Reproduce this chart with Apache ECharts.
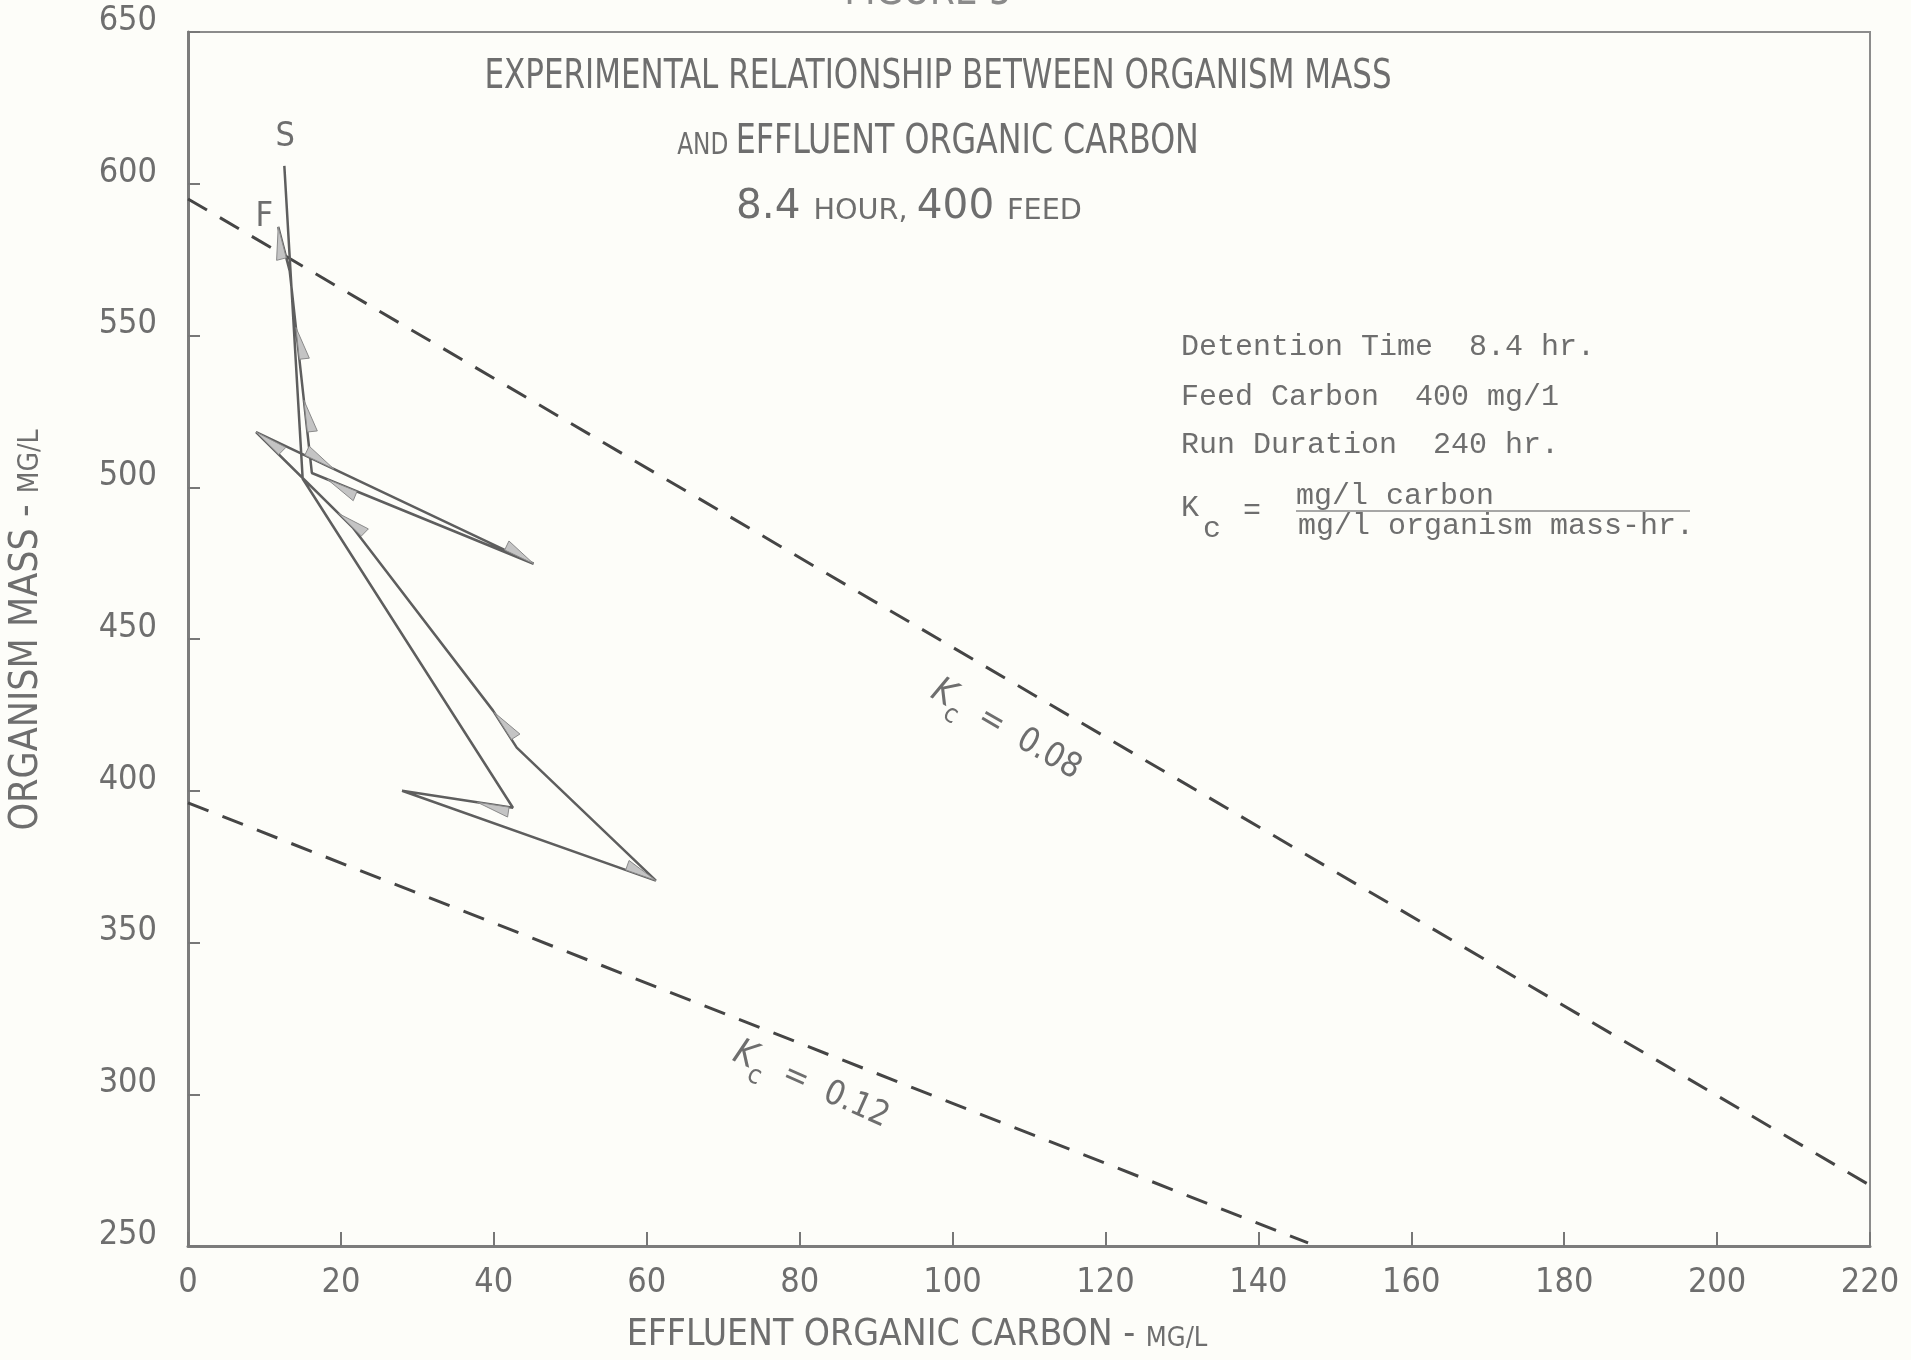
<!DOCTYPE html>
<html>
<head>
<meta charset="utf-8">
<title>Figure 5 - organism mass vs effluent organic carbon</title>
<script src="https://cdn.jsdelivr.net/npm/echarts@6/dist/echarts.min.js"></script>
<style>
  html, body { margin: 0; padding: 0; background: #fdfdf9; }
  #chart { width: 1911px; height: 1360px; }
</style>
</head>
<body>
<div id="chart"></div>
<script>
// axis ticks
const carbonTicks = [0, 20, 40, 60, 80, 100, 120, 140, 160, 180, 200, 220];
const massTicks = [250, 300, 350, 400, 450, 500, 550, 600, 650];

// measured run, from S to F (mg/l carbon, mg/l organism mass)
const pathCarbon = [12.6, 15.0, 42.5, 28.0, 61.2, 43.0, 39.9, 21.6, 8.9, 45.2, 16.2, 13.3, 11.8];
const pathMass = [605.9, 502.8, 394.4, 400.0, 370.4, 414.2, 426.4, 486.6, 518.2, 474.8, 504.7, 571.3, 585.8];

// pencil arrow heads: segment of the run, place along it, side of the barb
const arrowSeg = [11, 10, 10, 8, 8, 9, 7, 7, 5, 3, 2];
const arrowAt = [1.0, 0.72, 0.36, 1.0, 0.28, 0.93, 1.0, 0.15, 0.95, 1.0, 0.32];
const arrowSide = [1, -1, -1, 1, 1, 1, -1, -1, -1, 1, 1];

// Kc guide lines
const kc08Carbon = [0, 220];
const kc08Mass = [595, 270];
const kc12Carbon = [0, 146.5];
const kc12Mass = [396, 251];

const FONT = '"Liberation Sans Narrow", "DejaVu Sans Condensed", "Liberation Sans", sans-serif';
const MONO = '"Liberation Mono", "DejaVu Sans Mono", monospace';
const INK = '#6e6e6e';

const chart = echarts.init(document.getElementById('chart'));

function pairs(xs, ys) {
  return xs.map(function (x, i) { return [x, ys[i]]; });
}

let option = {
  backgroundColor: '#fdfdf9',
  animation: false,
  grid: {
    left: 188, right: 41, top: 32, bottom: 114,
    show: true, borderColor: '#8c8c8c', borderWidth: 2
  },
  xAxis: {
    type: 'value',
    min: carbonTicks[0],
    max: carbonTicks[carbonTicks.length - 1],
    interval: carbonTicks[1] - carbonTicks[0],
    axisLine: { show: true, lineStyle: { color: '#7c7c7c', width: 3 } },
    axisTick: { show: true, inside: true, length: 14, lineStyle: { color: '#777', width: 2 } },
    axisLabel: { color: INK, fontFamily: FONT, fontSize: 34, margin: 20 },
    splitLine: { show: false }
  },
  yAxis: {
    type: 'value',
    min: massTicks[0],
    max: massTicks[massTicks.length - 1],
    interval: massTicks[1] - massTicks[0],
    axisLine: { show: true, lineStyle: { color: '#7c7c7c', width: 3 } },
    axisTick: { show: true, inside: true, length: 12, lineStyle: { color: '#777', width: 2 } },
    // the hand lettering sits a little above each tick
    axisLabel: { color: INK, fontFamily: FONT, fontSize: 34, margin: 31, verticalAlign: 'bottom', lineHeight: 22 },
    splitLine: { show: false }
  },
  series: [
    {
      name: 'Kc 0.08',
      type: 'line',
      data: pairs(kc08Carbon, kc08Mass),
      showSymbol: false,
      lineStyle: { color: '#454545', width: 3, type: [22, 15] }
    },
    {
      name: 'Kc 0.12',
      type: 'line',
      data: pairs(kc12Carbon, kc12Mass),
      showSymbol: false,
      lineStyle: { color: '#454545', width: 3, type: [22, 15] }
    },
    {
      name: 'run',
      type: 'line',
      data: pairs(pathCarbon, pathMass),
      showSymbol: false,
      lineStyle: { color: '#5e5e5e', width: 2.5 },
      z: 3
    },
    {
      name: 'arrows',
      type: 'custom',
      data: arrowSeg.map(function (s, i) { return [s, arrowAt[i], arrowSide[i]]; }),
      z: 4,
      renderItem: function (params, api) {
        const i = api.value(0), t = api.value(1), side = api.value(2);
        const a = api.coord([pathCarbon[i], pathMass[i]]);
        const b = api.coord([pathCarbon[i + 1], pathMass[i + 1]]);
        const len = Math.hypot(b[0] - a[0], b[1] - a[1]);
        const ux = (b[0] - a[0]) / len, uy = (b[1] - a[1]) / len;
        const tip = [a[0] + (b[0] - a[0]) * t, a[1] + (b[1] - a[1]) * t];
        const L = 32, W = 10;
        const back = [tip[0] - ux * L, tip[1] - uy * L];
        const barb = [back[0] + uy * W * side, back[1] - ux * W * side];
        return {
          type: 'polygon',
          shape: { points: [tip, barb, back] },
          style: { fill: '#c4c4c4', stroke: '#8a8a8a', lineWidth: 1 }
        };
      }
    }
  ]
};
chart.setOption(option);

// text that sits on the plot
function px(c, m) { return chart.convertToPixel({ gridIndex: 0 }, [c, m]); }
const last = pathCarbon.length - 1;
const sPt = px(pathCarbon[0], pathMass[0]);
const fPt = px(pathCarbon[last], pathMass[last]);
const kc08At = px(107, 420);
const kc12At = px(81.5, 303);

function txt(x, y, text, font, extra) {
  return {
    type: 'text', x: x, y: y, z: 10,
    style: Object.assign({ text: text, font: font, fill: INK, align: 'center', verticalAlign: 'middle' }, extra || {})
  };
}

// big letters and small capitals on one baseline
function lettering(big, small) {
  return {
    n: { fontFamily: FONT, fontSize: big, fill: INK, verticalAlign: 'middle' },
    sc: { fontFamily: FONT, fontSize: small, fill: INK, verticalAlign: 'middle', padding: [Math.round((big - small) * 0.75), 0, 0, 0] }
  };
}

const kcRich = {
  k: { fontFamily: FONT, fontSize: 36, fontStyle: 'italic', fill: INK },
  c: { fontFamily: FONT, fontSize: 26, fill: INK, padding: [30, 0, 0, 0] },
  v: { fontFamily: FONT, fontSize: 34, fill: INK }
};

chart.setOption({
  graphic: [
    txt(928, -6, 'FIGURE 5', '40px ' + FONT, { fill: '#8a8a8a' }),
    Object.assign(txt(938, 77, 'EXPERIMENTAL RELATIONSHIP BETWEEN ORGANISM MASS', '41px ' + FONT), { scaleX: 0.84 }),
    {
      type: 'text', x: 938, y: 142, z: 10, scaleX: 0.86,
      style: {
        text: '{sc|AND }{n|EFFLUENT ORGANIC CARBON}', align: 'center', verticalAlign: 'middle',
        rich: lettering(41, 30)
      }
    },
    {
      type: 'text', x: 909, y: 207, z: 10, scaleX: 1.1,
      style: {
        text: '{n|8.4 }{sc|HOUR, }{n|400 }{sc|FEED}', align: 'center', verticalAlign: 'middle',
        rich: lettering(41, 29)
      }
    },
    txt(sPt[0] + 1, sPt[1] - 29, 'S', '34px ' + FONT),
    txt(fPt[0] - 14, fPt[1] - 10, 'F', '34px ' + FONT),
    // typed notes
    txt(1181, 347, 'Detention Time  8.4 hr.', '30px ' + MONO, { align: 'left' }),
    txt(1181, 397, 'Feed Carbon  400 mg/1', '30px ' + MONO, { align: 'left' }),
    txt(1181, 445, 'Run Duration  240 hr.', '30px ' + MONO, { align: 'left' }),
    txt(1181, 508, 'K', '30px ' + MONO, { align: 'left' }),
    txt(1203, 529, 'c', '30px ' + MONO, { align: 'left' }),
    txt(1243, 511, '=', '30px ' + MONO, { align: 'left' }),
    txt(1296, 496, 'mg/l carbon', '30px ' + MONO, { align: 'left' }),
    {
      type: 'line', z: 10,
      shape: { x1: 1296, y1: 511, x2: 1690, y2: 511 },
      style: { stroke: '#8a8a8a', lineWidth: 1.5 }
    },
    txt(1298, 526, 'mg/l organism mass-hr.', '30px ' + MONO, { align: 'left' }),
    // Kc labels along the guide lines
    {
      type: 'text', x: kc08At[0], y: kc08At[1], z: 10, rotation: -30 * Math.PI / 180,
      style: { text: '{k|K}{c|c}{v|  =  0.08}', align: 'center', verticalAlign: 'middle', rich: kcRich }
    },
    {
      type: 'text', x: kc12At[0], y: kc12At[1], z: 10, rotation: -24 * Math.PI / 180,
      style: { text: '{k|K}{c|c}{v|  =  0.12}', align: 'center', verticalAlign: 'middle', rich: kcRich }
    },
    // axis titles
    {
      type: 'text', x: 917, y: 1335, z: 10,
      style: {
        text: '{n|EFFLUENT ORGANIC CARBON - }{sc|MG/L}', align: 'center', verticalAlign: 'middle',
        rich: lettering(37, 27)
      }
    },
    {
      type: 'text', x: 27, y: 630, z: 10, rotation: Math.PI / 2,
      style: {
        text: '{n|ORGANISM MASS - }{sc|MG/L}', align: 'center', verticalAlign: 'middle',
        rich: lettering(39, 28)
      }
    }
  ]
});
</script>
</body>
</html>
